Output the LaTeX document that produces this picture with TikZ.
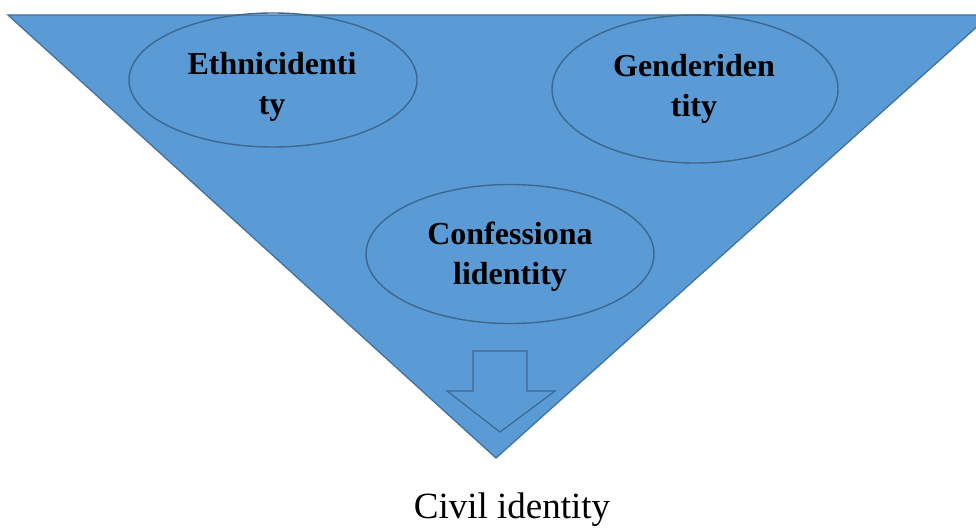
\documentclass[tikz,border=0pt]{standalone}
\usepackage{fontspec}
\setmainfont{Liberation Serif}
\usetikzlibrary{shapes.geometric}
\definecolor{triFill}{HTML}{5B9BD5}
\definecolor{triLine}{HTML}{41719C}
\definecolor{ellLine}{HTML}{3B6890}
\tikzset{
  oval/.style={ellipse, draw=ellLine, line width=1.4pt, inner sep=0pt},
  lbl/.style={font=\bfseries\fontsize{32}{40}\selectfont, align=center, inner sep=0pt, text=black},
  civil/.style={font=\fontsize{37}{44}\selectfont, inner sep=0pt, anchor=base, text=black}
}
\begin{document}
\begin{tikzpicture}[x=1pt,y=-1pt]
\useasboundingbox (0,0) rectangle (976,527);
\begin{scope}
\clip (0,0) rectangle (976,527);
% triangle
\draw[fill=triFill, draw=triLine, line width=1.3pt, line join=miter]
  (8,15) -- (990,15) -- (496,458) -- cycle;
% down block arrow outline
\coordinate (a1) at (473,351);
\draw[draw=ellLine, line width=1.2pt, line join=miter]
  (a1) -- (527,351) -- (527,391) -- (555,391) -- (500,432) -- (447,391) -- (473,391) -- cycle;
% ellipses
\node[oval, minimum width=288pt, minimum height=134pt] (ethnic) at (273,80) {};
\node[oval, minimum width=286pt, minimum height=148pt] (gender) at (695,89) {};
\node[oval, minimum width=288pt, minimum height=139pt] (conf) at (510,254) {};
% labels
\node[lbl] (ethnicT) at (272,87) {Ethnicidenti\\ty};
\node[lbl] (genderT) at (694,89) {Genderiden\\tity};
\node[lbl] (confT) at (510,257) {Confessiona\\lidentity};
\node[civil] (civilT) at (512,518) {Civil identity};
\end{scope}
\end{tikzpicture}
\end{document}
